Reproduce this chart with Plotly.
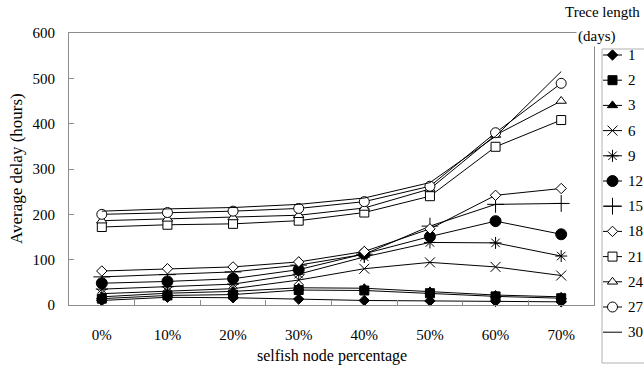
import plotly.graph_objects as go

# Selfish node percentage (x categories)
categories = ["0%", "10%", "20%", "30%", "40%", "50%", "60%", "70%"]

# Trace length (days) of each series
trace_lengths = [1, 2, 3, 6, 9, 12, 15, 18, 21, 24, 27, 30]

# Average delay (hours) per trace length
delay_1 = [10, 17, 16, 13, 10, 9, 8, 7]
delay_2 = [14, 21, 23, 33, 32, 26, 19, 15]
delay_3 = [18, 26, 30, 38, 37, 30, 22, 18]
delay_6 = [25, 30, 36, 55, 80, 94, 84, 65]
delay_9 = [35, 40, 46, 68, 106, 138, 137, 108]
delay_12 = [48, 52, 58, 78, 113, 151, 185, 156]
delay_15 = [62, 67, 73, 88, 112, 174, 222, 224]
delay_18 = [75, 80, 84, 95, 118, 168, 242, 257]
delay_21 = [172, 177, 179, 186, 204, 240, 349, 408]
delay_24 = [186, 190, 193, 198, 214, 256, 375, 450]
delay_27 = [200, 204, 207, 213, 228, 262, 380, 489]
delay_30 = [207, 212, 215, 222, 236, 270, 372, 515]

series = [delay_1, delay_2, delay_3, delay_6, delay_9, delay_12,
          delay_15, delay_18, delay_21, delay_24, delay_27, delay_30]

# Marker style per series: (symbol, size, fill colour)
styles = [
    ("diamond", 8, "black"),
    ("square", 9, "black"),
    ("triangle-up", 9, "black"),
    ("x-thin", 10, "black"),
    ("asterisk", 10, "black"),
    ("circle", 11, "black"),
    ("cross-thin", 12, "black"),
    ("diamond", 8, "white"),
    ("square", 9, "white"),
    ("triangle-up", 9, "white"),
    ("circle", 10, "white"),
    (None, 0, None),
]

FONT = "Liberation Serif"
W, H = 644, 370
# plot area in pixels
PX0, PX1, PY0, PY1 = 69, 594, 33, 305

fig = go.Figure()

for n, ys, (sym, size, fill) in zip(trace_lengths, series, styles):
    kw = dict(x=categories, y=ys, name=str(n), showlegend=False,
              line=dict(color="black", width=1), cliponaxis=False)
    if sym is None:
        fig.add_trace(go.Scatter(mode="lines", **kw))
    else:
        fig.add_trace(go.Scatter(
            mode="lines+markers",
            marker=dict(symbol=sym, size=size, color=fill,
                        line=dict(color="black", width=1)),
            **kw))

# Legend drawn on a pixel-space overlay axis
LEG_X0, LEG_Y0, LEG_X1, LEG_Y1 = 602, 49, 700, 363
ROW0, ROW_STEP = 55, 25.2
SEG0, SEG1, TXT_X = 603, 622, 626
annotations = []
for i, (n, (sym, size, fill)) in enumerate(zip(trace_lengths, styles)):
    ry = ROW0 + i * ROW_STEP
    fig.add_trace(go.Scatter(x=[SEG0, SEG1], y=[ry, ry], mode="lines",
                             line=dict(color="black", width=1),
                             xaxis="x2", yaxis="y2", showlegend=False,
                             hoverinfo="skip", cliponaxis=False))
    if sym is not None:
        fig.add_trace(go.Scatter(x=[(SEG0 + SEG1) / 2], y=[ry], mode="markers",
                                 marker=dict(symbol=sym, size=size, color=fill,
                                             line=dict(color="black", width=1)),
                                 xaxis="x2", yaxis="y2", showlegend=False,
                                 hoverinfo="skip", cliponaxis=False))
    annotations.append(dict(x=TXT_X, y=ry, xref="x2", yref="y2", text=str(n),
                            showarrow=False, xanchor="left", yanchor="middle",
                            font=dict(family=FONT, size=15, color="black")))

# Legend title
annotations.append(dict(x=602, y=12, xref="x2", yref="y2", text="Trece length",
                        showarrow=False, xanchor="center", yanchor="middle",
                        font=dict(family=FONT, size=15, color="black")))
annotations.append(dict(x=597, y=36, xref="x2", yref="y2", text="(days)",
                        showarrow=False, xanchor="center", yanchor="middle",
                        bgcolor="white",
                        font=dict(family=FONT, size=15, color="black")))

# Axis titles
annotations.append(dict(x=(PX0 + PX1) / 2, y=356, xref="x2", yref="y2",
                        text="selfish node percentage", showarrow=False,
                        xanchor="center", yanchor="middle",
                        font=dict(family=FONT, size=16, color="black")))
annotations.append(dict(x=16, y=(PY0 + PY1) / 2, xref="x2", yref="y2",
                        text="Average delay (hours)", showarrow=False,
                        textangle=-90, xanchor="center", yanchor="middle",
                        font=dict(family=FONT, size=17, color="black")))

shapes = [dict(type="rect", xref="x2", yref="y2", x0=LEG_X0, x1=LEG_X1,
               y0=LEG_Y0, y1=LEG_Y1, line=dict(color="#b0b0b0", width=1),
               fillcolor="rgba(0,0,0,0)", layer="above")]

axis_font = dict(family=FONT, size=15, color="black")
fig.update_layout(
    width=W, height=H, autosize=False,
    margin=dict(l=0, r=0, t=0, b=0, autoexpand=False),
    paper_bgcolor="white", plot_bgcolor="rgba(0,0,0,0)",
    showlegend=False,
    xaxis=dict(
        type="category", categoryorder="array", categoryarray=categories,
        domain=[PX0 / W, PX1 / W], range=[-0.5, 7.5],
        showline=True, linecolor="#8c8c8c", linewidth=1, mirror=True,
        ticks="inside", ticklen=5, tickcolor="#8c8c8c", tickson="boundaries",
        showgrid=False, zeroline=False, tickfont=axis_font,
        ticklabelstandoff=16, anchor="y",
    ),
    yaxis=dict(
        domain=[1 - PY1 / H, 1 - PY0 / H], range=[0, 600],
        tickvals=[0, 100, 200, 300, 400, 500, 600],
        showline=True, linecolor="#8c8c8c", linewidth=1, mirror=True,
        ticks="inside", ticklen=5, tickcolor="#8c8c8c",
        showgrid=False, zeroline=False, tickfont=axis_font,
        ticklabelstandoff=10, anchor="x",
    ),
    xaxis2=dict(domain=[0, 1], range=[0, W], visible=False, anchor="y2",
                fixedrange=True),
    yaxis2=dict(domain=[0, 1], range=[H, 0], visible=False, anchor="x2",
                fixedrange=True),
    annotations=annotations,
    shapes=shapes,
)

fig.write_html("out.html")
